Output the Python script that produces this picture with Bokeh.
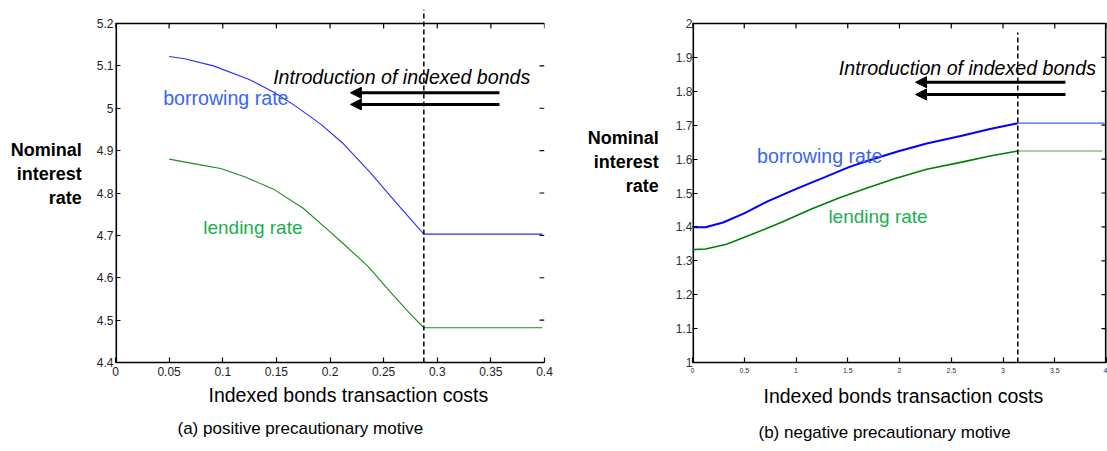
from bokeh.plotting import figure
from bokeh.layouts import row
from bokeh.models import Label, Arrow, NormalHead, FixedTicker, Range1d, CustomJSTickFormatter, Title
from bokeh.embed import file_html
from bokeh.resources import INLINE

# ---------------- data: panel (a) positive precautionary motive ----------------
a_borrow_x = [0.05, 0.0645, 0.0913, 0.1247, 0.148, 0.168, 0.1916, 0.2117, 0.238, 0.262, 0.2875, 0.398]
a_borrow_y = [5.122, 5.117, 5.100, 5.068, 5.037, 5.005, 4.962, 4.918, 4.847, 4.776, 4.703, 4.703]
a_lend_x = [0.05, 0.078, 0.098, 0.121, 0.148, 0.175, 0.198, 0.2117, 0.235, 0.2585, 0.275, 0.2875, 0.398]
a_lend_y = [4.880, 4.867, 4.858, 4.838, 4.808, 4.764, 4.713, 4.682, 4.628, 4.560, 4.514, 4.482, 4.482]
a_cutoff = 0.2875
a_xticks = [0, 0.05, 0.1, 0.15, 0.2, 0.25, 0.3, 0.35, 0.4]
a_yticks = [4.4, 4.5, 4.6, 4.7, 4.8, 4.9, 5.0, 5.1, 5.2]

# ---------------- data: panel (b) negative precautionary motive ----------------
b_borrow_x = [0, 0.126, 0.295, 0.499, 0.736, 1.008, 1.279, 1.517, 1.754, 1.99, 2.263, 2.602, 2.874, 3.143]
b_borrow_y = [1.399, 1.399, 1.413, 1.440, 1.477, 1.513, 1.547, 1.577, 1.601, 1.623, 1.646, 1.669, 1.689, 1.706]
b_borrow_flat_x = [3.143, 3.98]
b_borrow_flat_y = [1.706, 1.706]
b_lend_x = [0, 0.126, 0.329, 0.6, 0.872, 1.143, 1.415, 1.686, 1.958, 2.263, 2.602, 2.874, 3.143]
b_lend_y = [1.333, 1.335, 1.349, 1.381, 1.415, 1.452, 1.485, 1.515, 1.543, 1.570, 1.591, 1.609, 1.624]
b_lend_flat_x = [3.143, 3.96]
b_lend_flat_y = [1.624, 1.624]
b_cutoff = 3.143
b_xticks = [0, 0.5, 1, 1.5, 2, 2.5, 3, 3.5, 4]
b_yticks = [1, 1.1, 1.2, 1.3, 1.4, 1.5, 1.6, 1.7, 1.8, 1.9, 2]

FONT = "Liberation Sans"
FMT = "return String(Math.round(tick*1000)/1000);"

H = 451
TOP = 9          # frame top (px from canvas top)
BOTTOM = 89      # frame bottom border


def style_axes(p, tick_font_size, label_color="#222222"):
    p.xgrid.visible = False
    p.ygrid.visible = False
    for ax in (p.xaxis[0], p.yaxis[0]):
        ax.major_tick_in = 5
        ax.major_tick_out = 0
        ax.minor_tick_line_color = None
        ax.axis_line_width = 1.6
        ax.axis_line_color = "black"
        ax.major_tick_line_color = "black"
        ax.major_tick_line_width = 1.2
        ax.major_label_text_font = FONT
        ax.major_label_text_color = label_color
        ax.major_label_text_font_size = tick_font_size
    p.yaxis.axis_line_color = None
    p.outline_line_color = None
    p.background_fill_color = "white"
    p.border_fill_color = "white"
    p.yaxis.axis_label_orientation = "horizontal"
    p.yaxis.axis_label_text_font = FONT
    p.yaxis.axis_label_text_font_size = "18px"
    p.yaxis.axis_label_text_font_style = "bold"
    p.yaxis.axis_label_text_color = "black"


def label(p, x, y, text, size, color="black", style="normal"):
    p.add_layout(Label(x=x, y=y, text=text, text_font=FONT, text_font_size=size,
                       text_color=color, text_font_style=style, text_align="left",
                       text_baseline="alphabetic"))


def below_title(p, text, size, offset, standoff):
    p.add_layout(Title(text=text, align="left", offset=offset, standoff=standoff,
                       text_font=FONT, text_font_size=size, text_font_style="normal",
                       text_color="black"), "below")


def box(p, xt, yt, px_x, px_y):
    x0, x1, y0, y1 = xt[0], xt[-1], yt[0], yt[-1]
    # left spine (half clipped at frame edge) and top border
    p.segment(x0=[x0], y0=[y0], x1=[x0], y1=[y1], line_color="black", line_width=3.2)
    p.segment(x0=[x0], y0=[y1], x1=[x1], y1=[y1], line_color="black", line_width=1.6)
    # top ticks
    p.segment(x0=xt, y0=[y1] * len(xt), x1=xt, y1=[y1 - 5 / px_y] * len(xt),
              line_color="black", line_width=1.2)
    # right ticks
    p.segment(x0=[x1] * len(yt), y0=yt, x1=[x1 - 5 / px_x] * len(yt), y1=yt,
              line_color="black", line_width=1.2)


# ======================= panel (a) =======================
a_px_x = 429 / 0.4
a_px_y = (H - BOTTOM - 23) / 0.8
pa = figure(width=560, height=H, x_range=Range1d(0, 0.4),
            y_range=Range1d(4.4, 5.2 + (23 - TOP) / a_px_y),
            output_backend="svg", toolbar_location=None, title=None,
            min_border_left=115, min_border_right=16, min_border_top=TOP, min_border_bottom=BOTTOM)
style_axes(pa, "12px")
pa.xaxis.ticker = FixedTicker(ticks=a_xticks)
pa.yaxis.ticker = FixedTicker(ticks=a_yticks)
pa.xaxis.formatter = CustomJSTickFormatter(code=FMT)
pa.yaxis.formatter = CustomJSTickFormatter(code=FMT)
pa.xaxis.major_label_standoff = 4
pa.yaxis.major_label_standoff = 2
pa.yaxis.axis_label = "Nominal\ninterest\nrate\n "
pa.yaxis.axis_label_standoff = 12
box(pa, a_xticks, a_yticks, a_px_x, a_px_y)

pa.line(a_borrow_x, a_borrow_y, line_color="#2b2bff", line_width=1.1)
pa.line(a_lend_x, a_lend_y, line_color="#1a8a1a", line_width=1.1)
pa.segment(x0=[a_cutoff], y0=[a_yticks[0]], x1=[a_cutoff], y1=[5.2 + (23 - TOP) / a_px_y],
           line_color="black", line_width=1.5, line_dash="5 3")

label(pa, 0.147, 5.0726, "Introduction of indexed bonds", "19.6px", style="italic")
label(pa, 0.0445, 5.0237, "borrowing rate", "19.6px", color="#3a66f0")
label(pa, 0.0818, 4.7179, "lending rate", "19px", color="#19b04e")
for yy in (5.0365, 5.0089):
    pa.add_layout(Arrow(end=NormalHead(size=11, fill_color="black", line_color="black"),
                        x_start=0.358, y_start=yy, x_end=0.219, y_end=yy,
                        line_width=3, line_color="black"))
below_title(pa, "Indexed bonds transaction costs", "19.5px", 93, 6)
below_title(pa, "(a) positive precautionary motive", "17px", 62, 17)

# ======================= panel (b) =======================
b_px_x = 414 / 4
b_px_y = (H - BOTTOM - 23) / 1.0
pb = figure(width=547, height=H, x_range=Range1d(0, 4),
            y_range=Range1d(1, 2 + (23 - TOP) / b_px_y),
            output_backend="svg", toolbar_location=None, title=None,
            min_border_left=132, min_border_right=1, min_border_top=TOP, min_border_bottom=BOTTOM)
style_axes(pb, "12px", label_color="#333333")
pb.xaxis.ticker = FixedTicker(ticks=b_xticks)
pb.yaxis.ticker = FixedTicker(ticks=b_yticks)
pb.xaxis.formatter = CustomJSTickFormatter(code=FMT)
pb.yaxis.formatter = CustomJSTickFormatter(code=FMT)
pb.xaxis.major_label_text_font_size = "7px"
pb.xaxis.major_label_standoff = 5
pb.yaxis.major_label_standoff = 0
pb.yaxis.axis_label = "Nominal\ninterest\nrate\n \n "
pb.yaxis.axis_label_standoff = 14
box(pb, b_xticks, b_yticks, b_px_x, b_px_y)
# right border
pb.segment(x0=[b_xticks[-1]], y0=[b_yticks[0]], x1=[b_xticks[-1]], y1=[b_yticks[-1]],
           line_color="black", line_width=3.2)

pb.line(b_borrow_x, b_borrow_y, line_color="#0000ff", line_width=2)
pb.line(b_borrow_flat_x, b_borrow_flat_y, line_color="#3366ff", line_width=1.2)
pb.line(b_lend_x, b_lend_y, line_color="#008000", line_width=1.6)
pb.line(b_lend_flat_x, b_lend_flat_y, line_color="#44aa44", line_width=1.1)
pb.segment(x0=[b_cutoff], y0=[1], x1=[b_cutoff], y1=[1.9735],
           line_color="black", line_width=1.5, line_dash="5 3")

label(pb, 1.414, 1.8681, "Introduction of indexed bonds", "19.6px", style="italic")
label(pb, 0.624, 1.6106, "borrowing rate", "19.6px", color="#3a66f0")
label(pb, 1.313, 1.4307, "lending rate", "19px", color="#19b04e")
for yy in (1.8268, 1.7906):
    pb.add_layout(Arrow(end=NormalHead(size=11, fill_color="black", line_color="black"),
                        x_start=3.604, y_start=yy, x_end=2.155, y_end=yy,
                        line_width=3, line_color="black"))
below_title(pb, "Indexed bonds transaction costs", "19.5px", 71, 15)
below_title(pb, "(b) negative precautionary motive", "17px", 66, 12)

layout = row(pa, pb, spacing=0)
open("out.html", "w").write(file_html(layout, INLINE))
